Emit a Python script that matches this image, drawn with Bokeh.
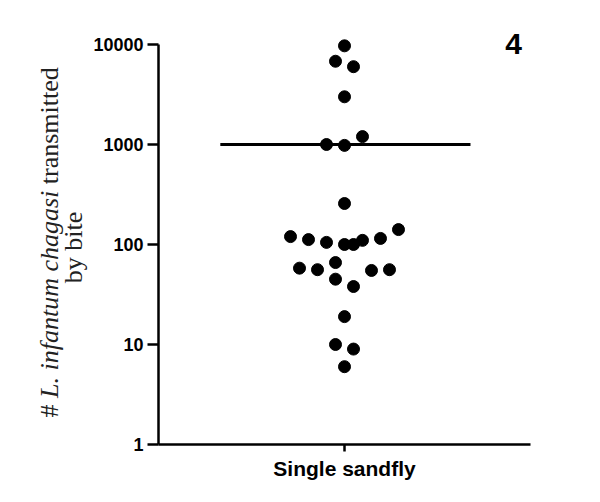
import math
from bokeh.plotting import figure
from bokeh.layouts import row
from bokeh.models import Range1d, FixedTicker, NumeralTickFormatter, Label, ColumnDataSource
from bokeh.embed import file_html
from bokeh.resources import INLINE

# ---- data ----
category = "Single sandfly"
# horizontal scatter offset (in dot-half-widths) of each animal's point
x_offset = [0, -1, 1, 0, 2, -2, 0,
            0, -6, -4, -2, 0, 1, 2, 4, 6,
            -5, -3, -1, -1, 1, 3, 5,
            0, -1, 1, 0]
parasites = [9700, 6800, 6000, 3000, 1200, 1000, 980,
             257, 120, 112, 105, 100, 100, 110, 115, 141,
             58, 56, 66, 45, 38, 55, 56,
             19, 10, 9, 6]
central_value = 1000
y_ticks = [1, 10, 100, 1000, 10000]
panel_tag = "4"
y_title_parts = ["#", "L. infantum chagasi", "transmitted"]
y_title_line2 = "by bite"

H = 502
LEFT_W = 88
MAIN_W = 600 - LEFT_W
frame_left = 158
frame_right = 530
frame_top = 28        # page y of frame top (extended above 10000 to hold the tag)
frame_bottom = 444

# ---- left strip holding the two-line, mixed-style y title ----
# (row() aligns the frames, so map the strip's data y to page y over the same frame)
t = figure(width=LEFT_W, height=H, output_backend="svg", toolbar_location=None,
           x_range=Range1d(0, LEFT_W), y_range=Range1d(H - frame_bottom, H - frame_top),
           min_border_left=0, min_border_right=0, min_border_top=frame_top,
           min_border_bottom=H - frame_bottom)
t.axis.visible = False
t.grid.visible = False
t.outline_line_color = None
t.background_fill_color = "white"
t.border_fill_color = "white"

fs = 26
serif = "Liberation Serif"
base_x = 49
start_y = H - 417
# start of each segment along the line, in em (includes the spaces between them)
em_starts = [0.0, 0.75, 0.75 + 7.973 + 0.25]
styles = ["normal", "italic", "normal"]
for txt, em0, st in zip(y_title_parts, em_starts, styles):
    t.add_layout(Label(x=base_x, y=start_y + em0 * fs, text=txt, angle=math.pi / 2,
                       text_align="left", text_baseline="alphabetic",
                       text_font=serif, text_font_style=st,
                       text_font_size=f"{fs}px", text_color="#222222"))
t.add_layout(Label(x=73, y=H - 247, text=y_title_line2, angle=math.pi / 2,
                   text_align="center", text_baseline="alphabetic",
                   text_font=serif, text_font_size=f"{fs}px", text_color="#222222"))

# ---- main plot ----
px_per_decade = 100
y_end = 10 ** (4 + (44 - frame_top) / px_per_decade)

src = ColumnDataSource(dict(x=x_offset, y=parasites))

p = figure(width=MAIN_W, height=H, output_backend="svg", toolbar_location=None,
           y_axis_type="log", x_range=Range1d(-20.67, 20.67), y_range=Range1d(1, y_end),
           min_border_left=frame_left - LEFT_W, min_border_top=frame_top,
           min_border_right=600 - frame_right, min_border_bottom=H - frame_bottom)
p.outline_line_color = None
p.grid.visible = False
p.background_fill_color = "white"
p.border_fill_color = "white"

p.line(x=[-13.8, 14.0], y=[central_value, central_value], line_color="black", line_width=3)
p.scatter(x="x", y="y", source=src, size=12, marker="circle",
          fill_color="black", line_color="black")

yax = p.yaxis[0]
yax.ticker = FixedTicker(ticks=y_ticks)
yax.formatter = NumeralTickFormatter(format="0")
yax.bounds = (y_ticks[0], y_ticks[-1])
yax.axis_line_width = 2.5
yax.major_tick_line_width = 2.5
yax.major_tick_out = 11
yax.major_tick_in = 0
yax.minor_tick_line_color = None
yax.major_label_text_font = "Liberation Sans"
yax.major_label_text_font_style = "bold"
yax.major_label_text_font_size = "18px"
yax.major_label_text_color = "black"
yax.major_label_standoff = 4
yax.axis_line_color = "black"
yax.major_tick_line_color = "black"

xax = p.xaxis[0]
xax.ticker = FixedTicker(ticks=[0])
xax.major_label_overrides = {0: category}
xax.axis_line_width = 2.5
xax.major_tick_line_width = 2.5
xax.major_tick_out = 7
xax.major_tick_in = 0
xax.minor_tick_line_color = None
xax.major_label_text_font = "Liberation Sans"
xax.major_label_text_font_style = "bold"
xax.major_label_text_font_size = "21px"
xax.major_label_text_color = "black"
xax.major_label_standoff = 5
xax.axis_line_color = "black"
xax.major_tick_line_color = "black"

p.add_layout(Label(x=513 - frame_left, y=frame_bottom - 43, x_units="screen", y_units="screen",
                   text=panel_tag, text_align="center", text_baseline="middle",
                   text_font="Liberation Sans", text_font_style="bold",
                   text_font_size="30px", text_color="black"))

layout = row(t, p)
open("out.html", "w").write(file_html(layout, INLINE))
